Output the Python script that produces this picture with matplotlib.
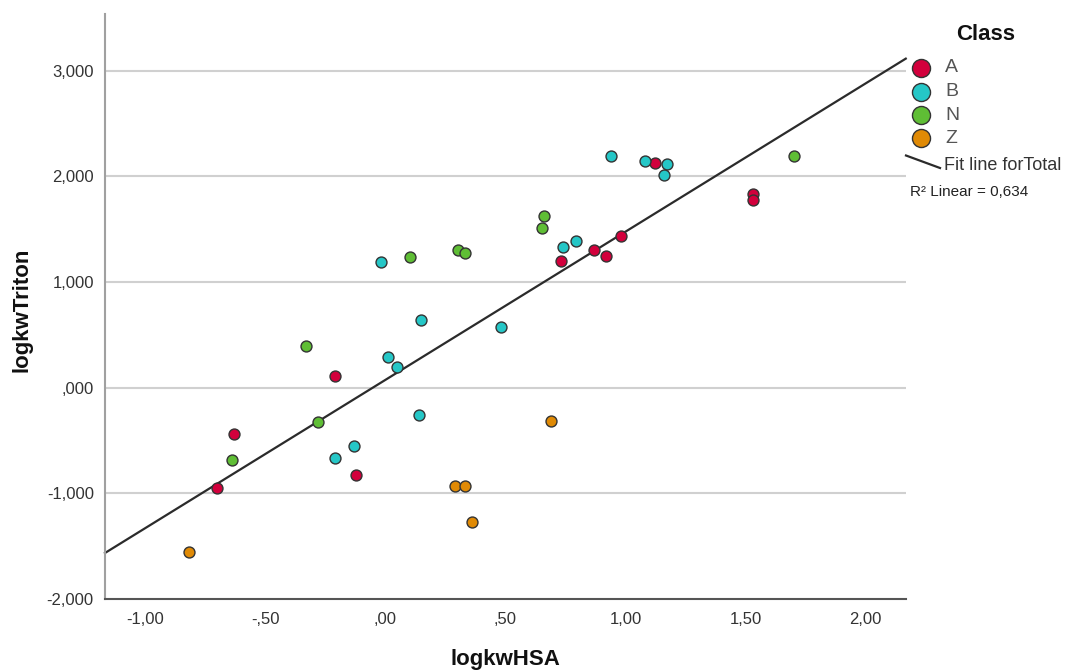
import numpy as np
import matplotlib
matplotlib.use("Agg")
import matplotlib.pyplot as plt
from matplotlib.lines import Line2D

# logkwHSA / logkwTriton values per class
a_x = [-0.700, -0.631, -0.208, -0.120, 0.730, 0.871, 0.921, 0.980, 1.121, 1.530, 1.530]
a_y = [-0.952, -0.435, 0.112, -0.826, 1.197, 1.300, 1.244, 1.433, 2.127, 1.836, 1.780]

b_x = [-0.018, 0.940, 1.080, 1.171, 1.161, 0.740, 0.792, 0.150, 0.480, 0.010, 0.049, -0.208, -0.129, 0.142]
b_y = [1.190, 2.196, 2.148, 2.117, 2.013, 1.336, 1.392, 0.639, 0.576, 0.286, 0.195, -0.665, -0.552, -0.262]

n_x = [-0.329, -0.278, -0.639, 0.101, 0.301, 0.333, 0.660, 0.651, 1.701]
n_y = [0.393, -0.321, -0.684, 1.235, 1.301, 1.272, 1.628, 1.512, 2.189]

z_x = [-0.818, 0.692, 0.292, 0.333, 0.361]
z_y = [-1.554, -0.318, -0.926, -0.933, -1.270]

classes = ["A", "B", "N", "Z"]
colors = ["#D2003C", "#25C7C7", "#5FBE35", "#E08A05"]
series = [(a_x, a_y), (b_x, b_y), (n_x, n_y), (z_x, z_y)]

x_ticks = [-1.0, -0.5, 0.0, 0.5, 1.0, 1.5, 2.0]
x_tick_labels = ["-1,00", "-,50", ",00", ",50", "1,00", "1,50", "2,00"]
y_ticks = [-2.0, -1.0, 0.0, 1.0, 2.0, 3.0]
y_tick_labels = ["-2,000", "-1,000", ",000", "1,000", "2,000", "3,000"]

r2_label = "R\u00b2 Linear = 0,634"

plt.rcParams["font.family"] = ["Liberation Sans", "DejaVu Sans"]

fig = plt.figure(figsize=(10.70, 6.71), dpi=100)
ax = fig.add_axes([0.0981, 0.1073, 0.7484, 0.8717])

xmin, xmax = -1.1667, 2.1667
ymin, ymax = -2.0, 3.536
ax.set_xlim(xmin, xmax)
ax.set_ylim(ymin, ymax)

# horizontal grid lines
for yt in y_ticks[1:]:
    ax.axhline(yt, color="#D0D0D0", lw=1.5, zorder=0)

# least-squares fit over all points
all_x = np.concatenate([np.array(s[0]) for s in series])
all_y = np.concatenate([np.array(s[1]) for s in series])
slope, intercept = np.polyfit(all_x, all_y, 1)
fx = np.array([xmin, xmax])
ax.plot(fx, slope * fx + intercept, color="#2B2B2B", lw=1.6, zorder=2,
        clip_on=False)

for (xs, ys), c in zip(series, colors):
    ax.scatter(xs, ys, s=62, color=c, edgecolors="#333333", linewidths=1.0,
               zorder=3)

ax.set_xticks(x_ticks)
ax.set_xticklabels(x_tick_labels)
ax.set_yticks(y_ticks)
ax.set_yticklabels(y_tick_labels)
ax.tick_params(length=0, labelsize=12, colors="#333333")
ax.tick_params(axis="x", pad=9)
ax.tick_params(axis="y", pad=8)

for side in ("top", "right"):
    ax.spines[side].set_visible(False)
ax.spines["left"].set_color("#A0A0A0")
ax.spines["left"].set_linewidth(1.5)
ax.spines["bottom"].set_color("#555555")
ax.spines["bottom"].set_linewidth(1.5)

fig.text(505 / 1070, 1 - 660 / 671, "logkwHSA", ha="center", va="center",
         fontsize=16, fontweight="bold", color="#111111")
fig.text(22 / 1070, 1 - 310 / 671, "logkwTriton", ha="center", va="center",
         rotation=90, fontsize=16, fontweight="bold", color="#111111")

# legend
fig.text(986 / 1070, 1 - 35 / 671, "Class", ha="center", va="center",
         fontsize=16, fontweight="bold", color="#111111")
leg_y = [67.7, 91.7, 115.0, 138.3]
for lab, c, py in zip(classes, colors, leg_y):
    fig.add_artist(Line2D([921 / 1070], [1 - py / 671], marker="o",
                          markersize=13, markerfacecolor=c,
                          markeredgecolor="#333333", markeredgewidth=1.0,
                          linestyle="none", transform=fig.transFigure))
    fig.text(945 / 1070, 1 - py / 671, lab, ha="left", va="center",
             fontsize=14, color="#555555")

fig.add_artist(Line2D([906 / 1070, 940 / 1070],
                      [1 - 155.5 / 671, 1 - 168 / 671],
                      color="#2B2B2B", lw=1.6, transform=fig.transFigure))
fig.text(944 / 1070, 1 - 165 / 671, "Fit line forTotal", ha="left",
         va="center", fontsize=13, color="#333333")
fig.text(910 / 1070, 1 - 192 / 671, r2_label, ha="left", va="center",
         fontsize=11, color="#222222")

fig.savefig("out.png", dpi=100, facecolor="white")
